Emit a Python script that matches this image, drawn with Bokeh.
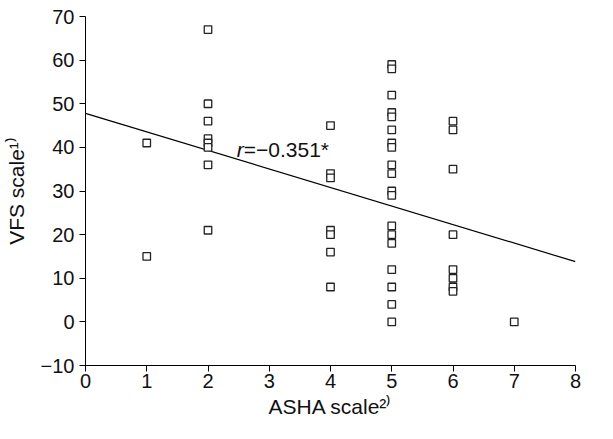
from bokeh.plotting import figure
from bokeh.models import Range1d, Label, FixedTicker, ColumnDataSource
from bokeh.embed import file_html
from bokeh.resources import INLINE

# ASHA scale (x) vs VFS scale (y)
asha = [1, 1,
        2, 2, 2, 2, 2, 2, 2, 2,
        4, 4, 4, 4, 4, 4, 4,
        5, 5, 5, 5, 5, 5, 5, 5, 5, 5, 5, 5, 5, 5, 5, 5, 5, 5, 5,
        6, 6, 6, 6, 6, 6, 6, 6,
        7]
vfs = [41, 15,
       67, 50, 46, 42, 41, 40, 36, 21,
       45, 34, 33, 21, 20, 16, 8,
       59, 58, 52, 48, 47, 44, 41, 40, 36, 34, 30, 29, 22, 20, 18, 12, 8, 4, 0,
       46, 44, 35, 20, 12, 10, 8, 7,
       0]

# regression line endpoints
fit_x = [0, 8]
fit_y = [47.8, 13.8]

x_ticks = [0, 1, 2, 3, 4, 5, 6, 7, 8]
y_ticks = [-10, 0, 10, 20, 30, 40, 50, 60, 70]

FONT = "Liberation Sans"

p = figure(width=597, height=423, output_backend="svg", toolbar_location=None,
           x_range=Range1d(0, 8), y_range=Range1d(-10, 70),
           min_border_left=85, min_border_right=22, min_border_top=16,
           min_border_bottom=58)
p.outline_line_color = None
p.grid.visible = False
p.background_fill_color = "white"

for ax in (p.xaxis[0], p.yaxis[0]):
    ax.axis_line_color = "black"
    ax.axis_line_width = 1
    ax.major_tick_line_color = "black"
    ax.major_tick_out = 6
    ax.major_tick_in = 0
    ax.minor_tick_line_color = None
    ax.major_label_text_font = FONT
    ax.major_label_text_font_size = "20px"
    ax.major_label_text_color = "#111111"
    ax.axis_label_text_font = FONT
    ax.axis_label_text_font_size = "21px"
    ax.axis_label_text_font_style = "normal"
    ax.axis_label_text_color = "#111111"

p.xaxis.ticker = FixedTicker(ticks=x_ticks)
p.yaxis.ticker = FixedTicker(ticks=y_ticks)
p.yaxis.major_label_overrides = {-10: "\u221210"}
p.xaxis.axis_label = "ASHA scale\u00b2\u207e"
p.yaxis.axis_label = "VFS scale\u00b9\u207e"
p.xaxis.major_label_standoff = 2
p.yaxis.major_label_standoff = 5
p.xaxis.axis_label_standoff = 4
p.yaxis.axis_label_standoff = 10

p.line(fit_x, fit_y, line_color="black", line_width=1.2)

src = ColumnDataSource(dict(x=asha, y=vfs))
p.scatter("x", "y", source=src, marker="square", size=7.5, fill_color="white",
          line_color="#222222", line_width=1.3)

# annotation
p.add_layout(Label(x=2.47, y=39.5, text="r", text_font=FONT, text_font_size="21px",
                   text_font_style="italic", text_baseline="alphabetic",
                   text_color="#111111"))
p.add_layout(Label(x=2.47, y=39.5, x_offset=7, text="=\u22120.351*", text_font=FONT,
                   text_font_size="21px", text_baseline="alphabetic",
                   text_color="#111111"))

open("out.html", "w").write(file_html(p, INLINE))
